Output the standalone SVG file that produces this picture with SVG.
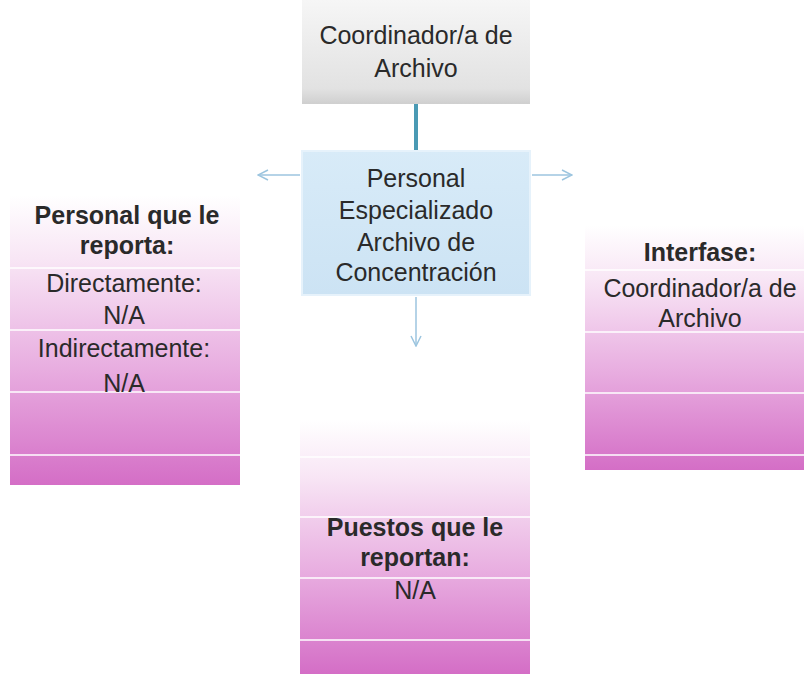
<svg xmlns="http://www.w3.org/2000/svg" width="804" height="674" viewBox="0 0 804 674">
  <style>
    .t { font-family: "Liberation Sans", Arial, sans-serif; font-size: 25px; fill: #2a2a2a; text-anchor: middle; }
    .b { font-weight: bold; }
    .row { stroke: #ffffff; stroke-opacity: 0.75; stroke-width: 2; }
    .conn { stroke: #9cc5df; stroke-width: 1.5; fill: none; }
  </style>
  <defs>
    <linearGradient id="gray" x1="0" y1="0" x2="0" y2="1">
      <stop offset="0" stop-color="#f6f6f6"/>
      <stop offset="0.85" stop-color="#e2e2e2"/>
      <stop offset="1" stop-color="#cfcfcf"/>
    </linearGradient>
    <linearGradient id="blue" x1="0" y1="0" x2="0" y2="1">
      <stop offset="0" stop-color="#d8ebf8"/>
      <stop offset="1" stop-color="#cce3f4"/>
    </linearGradient>
    <linearGradient id="pink" x1="0" y1="0" x2="0" y2="1">
      <stop offset="0" stop-color="#ffffff"/>
      <stop offset="0.22" stop-color="#f8e6f5"/>
      <stop offset="0.6" stop-color="#e8ade0"/>
      <stop offset="1" stop-color="#d46ec6"/>
    </linearGradient>
    <marker id="arr" viewBox="0 0 12 12" refX="11" refY="6" markerWidth="12" markerHeight="12" markerUnits="userSpaceOnUse" orient="auto">
      <path d="M1 1 L11 6 L1 11" fill="none" stroke="#9cc5df" stroke-width="1.5"/>
    </marker>
  </defs>
  <rect width="804" height="674" fill="#ffffff"/>

  <g id="connectors">
    <line x1="416" y1="103" x2="416" y2="150" stroke="#4a9ab4" stroke-width="4"/>
    <line class="conn" x1="300" y1="175" x2="258" y2="175" marker-end="url(#arr)"/>
    <line class="conn" x1="532" y1="175" x2="572" y2="175" marker-end="url(#arr)"/>
    <line class="conn" x1="416" y1="297" x2="416" y2="346" marker-end="url(#arr)"/>
  </g>

  <g id="coordinador">
    <rect x="302" y="0" width="228" height="104" fill="url(#gray)"/>
    <text class="t" x="416" y="44">Coordinador/a de</text>
    <text class="t" x="416" y="77">Archivo</text>
  </g>

  <g id="personal-especializado">
    <rect x="302" y="151" width="228" height="144" fill="url(#blue)" stroke="#e6f2fb" stroke-width="2"/>
    <text class="t" x="416" y="187">Personal</text>
    <text class="t" x="416" y="219">Especializado</text>
    <text class="t" x="416" y="251">Archivo de</text>
    <text class="t" x="416" y="281">Concentración</text>
  </g>

  <g id="personal-reporta">
    <rect x="10" y="195" width="230" height="290" fill="url(#pink)"/>
    <line class="row" x1="10" y1="268" x2="240" y2="268"/>
    <line class="row" x1="10" y1="330" x2="240" y2="330"/>
    <line class="row" x1="10" y1="392" x2="240" y2="392"/>
    <line class="row" x1="10" y1="455" x2="240" y2="455"/>
    <text class="t b" x="127" y="224">Personal que le</text>
    <text class="t b" x="127" y="254">reporta:</text>
    <text class="t" x="124" y="292">Directamente:</text>
    <text class="t" x="124" y="324">N/A</text>
    <text class="t" x="124" y="357">Indirectamente:</text>
    <text class="t" x="124" y="392">N/A</text>
  </g>

  <g id="interfase">
    <rect x="585" y="225" width="230" height="245" fill="url(#pink)"/>
    <line class="row" x1="585" y1="270" x2="815" y2="270"/>
    <line class="row" x1="585" y1="332" x2="815" y2="332"/>
    <line class="row" x1="585" y1="393" x2="815" y2="393"/>
    <line class="row" x1="585" y1="455" x2="815" y2="455"/>
    <text class="t b" x="700" y="261">Interfase:</text>
    <text class="t" x="700" y="297">Coordinador/a de</text>
    <text class="t" x="700" y="327">Archivo</text>
  </g>

  <g id="puestos-reportan">
    <rect x="300" y="420" width="230" height="254" fill="url(#pink)"/>
    <line class="row" x1="300" y1="457" x2="530" y2="457"/>
    <line class="row" x1="300" y1="517" x2="530" y2="517"/>
    <line class="row" x1="300" y1="578" x2="530" y2="578"/>
    <line class="row" x1="300" y1="640" x2="530" y2="640"/>
    <text class="t b" x="415" y="536">Puestos que le</text>
    <text class="t b" x="415" y="566">reportan:</text>
    <text class="t" x="415" y="599">N/A</text>
  </g>
</svg>
